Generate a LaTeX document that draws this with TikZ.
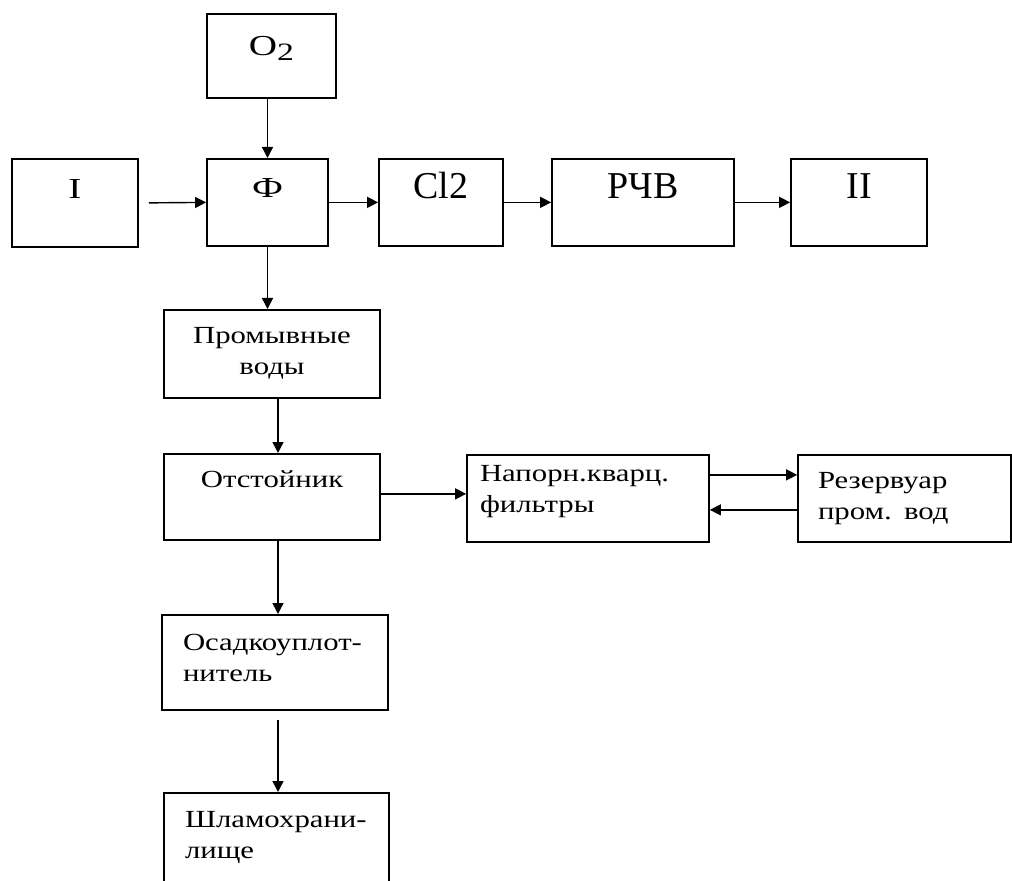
\documentclass[tikz,border=0pt]{standalone}
\usepackage{fontspec}
\setmainfont{Liberation Serif}
\newfontfamily\widefont[FakeStretch=1.25]{Liberation Serif}
\newfontfamily\midfont[FakeStretch=1.35]{Liberation Serif}
\usetikzlibrary{arrows.meta}

\begin{document}
\begin{tikzpicture}[
  blk/.style = {draw, line width = 1pt, anchor = north, inner xsep = 0pt, inner ysep = 0pt, align = center},
  big/.style = {font = \fontsize{21.6}{26}\selectfont},
  mid/.style = {font = \midfont\fontsize{16.5}{19}\selectfont},
  small/.style = {font = \widefont\fontsize{14}{17.6}\selectfont},
  flow/.style = {-{Triangle[length = 0.22cm, width = 0.22cm]}, line width = 0.8pt}
]
\clip (0,0) rectangle (20.24,-17.62);

\node[blk, mid, text width = 2.58cm, text height = 0.84cm, text depth = 0.84cm] (o2) at (5.43,-0.26)
  {O\raisebox{-2.85pt}{\fontsize{14.2}{17}\selectfont 2}};
\node[blk, mid, text width = 2.52cm, text height = 0.8cm, text depth = 0.96cm] (in) at (1.5,-3.16) {I};
\node[blk, mid, text width = 2.42cm, text height = 0.78cm, text depth = 0.96cm] (f) at (5.35,-3.16) {Ф};
\node[blk, big, text width = 2.48cm, text height = 0.8cm, text depth = 0.94cm] (cl) at (8.82,-3.16) {Cl2};
\node[blk, big, text width = 3.64cm, text height = 0.8cm, text depth = 0.94cm] (rchv) at (12.86,-3.16) {РЧВ};
\node[blk, big, text width = 2.72cm, text height = 0.8cm, text depth = 0.94cm] (out) at (17.18,-3.16) {II};

\node[blk, small, text width = 4.32cm, text height = 0.68cm, text depth = 1.08cm] (prom) at (5.44,-6.18) {Промывные\\воды};
\node[blk, small, text width = 4.32cm, text height = 0.68cm, text depth = 1.04cm] (otst) at (5.44,-9.06) {Отстойник};
\node[blk, small, align = left, inner xsep = 0.26cm, text width = 4.32cm, text height = 0.54cm, text depth = 1.2cm] (napor) at (11.76,-9.08) {Напорн.кварц.\\фильтры};
\node[blk, small, align = left, inner xsep = 0.4cm, text width = 3.46cm, text height = 0.68cm, text depth = 1.06cm] (rez) at (18.09,-9.08) {Резервуар\\пром. вод};
\node[blk, small, align = left, inner xsep = 0.42cm, text width = 3.68cm, text height = 0.72cm, text depth = 1.18cm] (osad) at (5.5,-12.28) {Осадкоуплот-\\нитель};
\node[blk, small, align = left, inner xsep = 0.42cm, text width = 3.66cm, text height = 0.7cm, text depth = 1.7cm] (shlam) at (5.53,-15.84) {Шламохрани-\\лище};

\draw[flow] (o2.south -| f.north) -- (f.north);
\draw[flow] ([xshift = 0.2cm]in.east) -- (f.west);
\draw[flow] (f.east) -- (cl.west);
\draw[flow] (cl.east) -- (rchv.west);
\draw[flow] (rchv.east) -- (out.west);
\draw[flow] (f.south) -- (f.south |- prom.north);
\draw[flow] ([xshift = 0.12cm]prom.south) -- ([xshift = 0.12cm]prom.south |- otst.north);
\draw[flow] ([xshift = 0.12cm]otst.south) -- ([xshift = 0.12cm]otst.south |- osad.north);
\draw[flow] ([shift = {(0.06,-0.18)}]osad.south) -- ([xshift = 0.06cm]osad.south |- shlam.north);
\draw[flow] ([yshift = 0.06cm]otst.east) -- ([yshift = 0.06cm]otst.east -| napor.west);
\draw[flow] ([yshift = 0.47cm]napor.east) -- ([yshift = 0.47cm]napor.east -| rez.west);
\draw[flow] ([yshift = -0.23cm]rez.west) -- ([yshift = -0.23cm]rez.west -| napor.east);
\end{tikzpicture}
\end{document}
